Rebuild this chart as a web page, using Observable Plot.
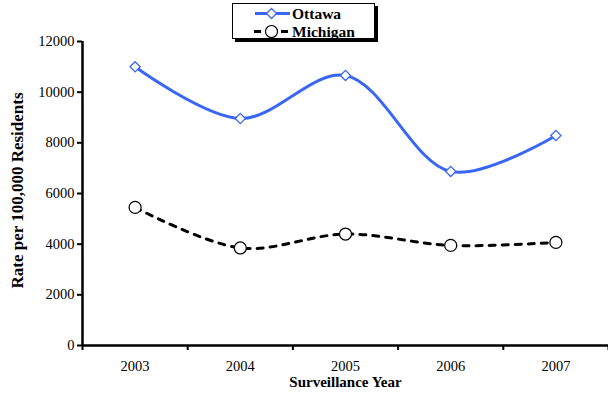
<!DOCTYPE html>
<html>
<head>
<meta charset="utf-8">
<script src="https://cdn.jsdelivr.net/npm/d3@7"></script>
<script src="https://cdn.jsdelivr.net/npm/@observablehq/plot@0.6"></script>
<style>
  html, body { margin: 0; padding: 0; background: #fff; }
  #wrap { position: relative; width: 608px; height: 393px; font-family: "Liberation Serif", "Times New Roman", serif; }
  #legend { position: absolute; left: 232px; top: 3px; width: 141px; height: 34px; border: 1px solid #000; background: #fff; box-shadow: 3px 3px 0 #000; }
  .row { position: absolute; left: 0; display: flex; align-items: center; height: 17px; }
  .row span { font-weight: bold; font-size: 15.5px; color: #000; margin-left: 1px; line-height: 17px; }
</style>
</head>
<body>
<div id="wrap"></div>
<script>
const years = [2003, 2004, 2005, 2006, 2007];
const ottawa = [11000, 8960, 10660, 6870, 8290];
const michigan = [5450, 3850, 4400, 3950, 4070];
const yTicks = [0, 2000, 4000, 6000, 8000, 10000, 12000];
const seriesNames = ["Ottawa", "Michigan"];
const blue = "#3a66f5";

const dataO = years.map((y, i) => ({year: y, value: ottawa[i]}));
const dataM = years.map((y, i) => ({year: y, value: michigan[i]}));
const bounds = [years[0] - 0.5, ...years.map(y => y + 0.5)];

const chart = Plot.plot({
  width: 608,
  height: 393,
  marginLeft: 82,
  marginRight: 0,
  marginTop: 41,
  marginBottom: 48,
  x: {domain: [years[0] - 0.5, years[years.length - 1] + 0.5], axis: null},
  y: {domain: [0, 12000], axis: null},
  style: {fontFamily: "'Liberation Serif', 'Times New Roman', serif", fontSize: "15px", background: "white", color: "black", overflow: "visible"},
  marks: [
    Plot.axisY({ticks: yTicks, tickSize: 5, tickPadding: 3, tickFormat: "d", label: null, stroke: "black", strokeWidth: 2, fill: "black", fontSize: 14.5}),
    Plot.axisX({ticks: bounds, tickSize: 5, tickFormat: () => "", label: null, stroke: "black", strokeWidth: 2}),
    Plot.axisX({ticks: years, tickSize: 0, tickPadding: 15, tickFormat: "d", label: null, fill: "black", fontSize: 14.5}),
    Plot.ruleX([bounds[0]], {stroke: "black", strokeWidth: 2.5}),
    Plot.ruleY([0], {stroke: "black", strokeWidth: 2.5}),
    Plot.text(["Surveillance Year"], {frameAnchor: "bottom", dy: 37, lineAnchor: "middle", textAnchor: "middle", fontWeight: "bold", fontSize: 15}),
    Plot.text(["Rate per 100,000 Residents"], {frameAnchor: "left", dx: -65, dy: -3, rotate: -90, lineAnchor: "middle", textAnchor: "middle", fontWeight: "bold", fontSize: 17}),
    Plot.line(dataO, {x: "year", y: "value", stroke: blue, strokeWidth: 3, curve: "catmull-rom"}),
    Plot.line(dataM, {x: "year", y: "value", stroke: "black", strokeWidth: 3, strokeDasharray: "6,7", curve: "catmull-rom"}),
    Plot.dot(dataO, {x: "year", y: "value", symbol: "diamond2", r: 4.6, stroke: blue, strokeWidth: 1.3, fill: "white"}),
    Plot.dot(dataM, {x: "year", y: "value", symbol: "circle", r: 6, stroke: "black", strokeWidth: 1.2, fill: "white"})
  ]
});

const wrap = document.getElementById("wrap");
wrap.appendChild(chart);

const legend = document.createElement("div");
legend.id = "legend";
legend.innerHTML = `
  <div class="row" style="top:1px;">
    <svg width="58" height="17" style="display:block">
      <line x1="22" x2="57" y1="8.5" y2="8.5" stroke="${blue}" stroke-width="3"/>
      <path d="M38.5,3.5 L43.5,8.5 L38.5,13.5 L33.5,8.5 Z" fill="white" stroke="${blue}" stroke-width="1.3"/>
    </svg><span>${seriesNames[0]}</span>
  </div>
  <div class="row" style="top:19px;">
    <svg width="58" height="17" style="display:block">
      <line x1="21" x2="57" y1="8.5" y2="8.5" stroke="black" stroke-width="3" stroke-dasharray="7,20"/>
      <circle cx="38.5" cy="8.5" r="6" fill="white" stroke="black" stroke-width="1.2"/>
    </svg><span>${seriesNames[1]}</span>
  </div>`;
wrap.appendChild(legend);
</script>
</body>
</html>
